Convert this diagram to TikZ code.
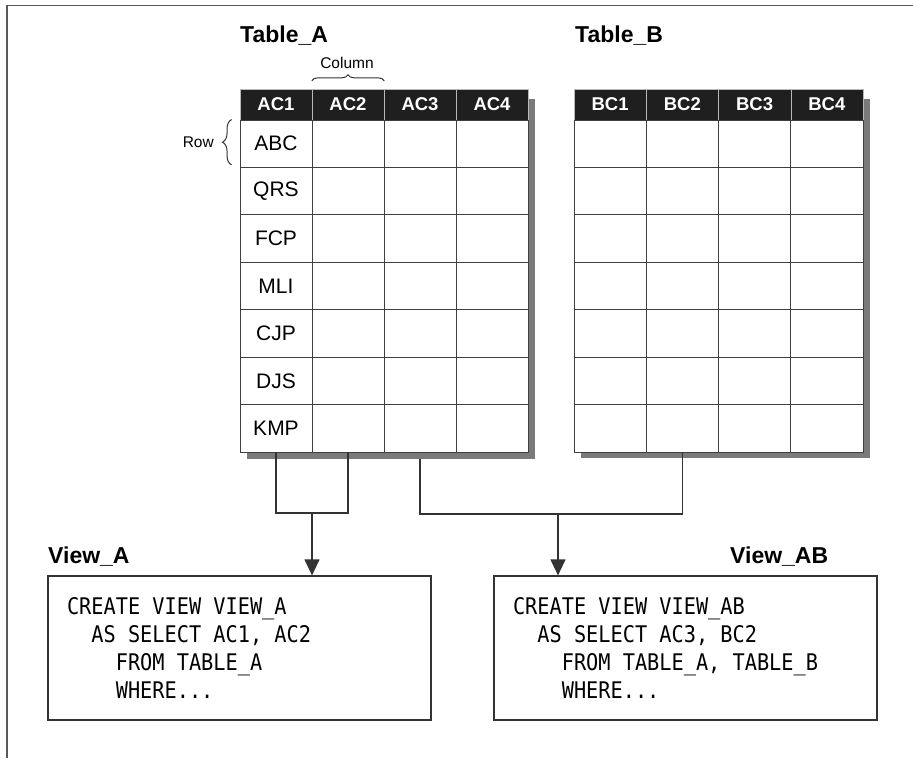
\documentclass[tikz,border=0pt]{standalone}
\usepackage{fontspec}
\setmainfont{Liberation Sans}
\newfontfamily\codefont[FakeStretch=0.885]{DejaVu Sans Mono}
\newcommand{\codespacing}{\spaceskip=\fontcharwd\font`\A\relax\xspaceskip=\spaceskip}
\usepackage{tikz}
\usetikzlibrary{arrows.meta,positioning,calc,backgrounds,decorations.pathreplacing}

\begin{document}
\begin{tikzpicture}[x=1pt,y=-1pt]
  \tikzstyle{title}=[anchor=base west, inner sep=0pt, font=\fontsize{23}{27}\selectfont\bfseries]
  \tikzstyle{head}=[rectangle, draw=gray!55, fill=black!88, text=white, minimum height=31pt, inner sep=0pt, font=\fontsize{18.5}{21}\selectfont\bfseries]
  \tikzstyle{cell}=[rectangle, draw=black!75, fill=white, line width=0.9pt, minimum height=47.43pt, inner sep=0pt, font=\fontsize{21}{24}\selectfont]
  \tikzstyle{note}=[inner sep=0pt, font=\fontsize{15.5}{18}\selectfont]
  \tikzstyle{tshadow}=[fill=black!52]
  \tikzstyle{link}=[draw=black!80, line width=1.2pt]
  \tikzstyle{arrow}=[-{Triangle[length=16pt,width=15pt]}]
  \tikzstyle{viewbox}=[rectangle, draw=black!80, line width=1.2pt, minimum width=383pt, minimum height=144pt, text width=345pt, inner xsep=19pt, align=left,
    font=\codefont\fontsize{22.9}{28}\selectfont]
  \tikzstyle{frame}=[draw=black!65, line width=1.6pt]

  \useasboundingbox (0,0) rectangle (913,758);
  \draw[frame] (913,5.5) -| (7,758);

  % tables
  \node[title] (ta) at (240,42) {Table\_A};
  \node[title] (tb) at (575,42) {Table\_B};
  \foreach \c in {1,...,4} {
    \node[head, minimum width=72pt] (ah\c) at ({204+72*\c},104.5) {AC\c};
    \node[head, minimum width=72.25pt] (bh\c) at ({537.875+72.25*\c},104.5) {BC\c};
  }
  \foreach \t [count=\r] in {ABC,QRS,FCP,MLI,CJP,DJS,KMP} {
    \foreach \c in {1,...,4} {
      \node[cell, minimum width=72pt] (a\r\c) at ({204+72*\c},{96.285+47.43*\r}) {\ifnum\c=1 \t\fi};
      \node[cell, minimum width=72.25pt] (b\r\c) at ({537.875+72.25*\c},{96.285+47.43*\r}) {};
    }
  }
  \begin{scope}[on background layer]
    \fill[tshadow] ([shift={(7,10)}]ah1.north west) rectangle ([shift={(7,7)}]a74.south east);
    \fill[tshadow] ([shift={(7,10)}]bh1.north west) rectangle ([shift={(7,6)}]b74.south east);
  \end{scope}

  % row / column marks
  \draw[link, line width=1pt, decorate, decoration={brace, amplitude=6pt}] ([yshift=8pt]ah2.north west) -- ([yshift=8pt]ah2.north east);
  \node[note] (collbl) at (347,63) {Column};
  \draw[link, line width=1pt, decorate, decoration={brace, amplitude=9pt}] ([shift={(-8,-3)}]a11.south west) -- ([xshift=-8pt]a11.north west);
  \node[note, anchor=east] (rowlbl) at (214,142) {Row};

  % views
  \node[title] (tva) at (48,563) {View\_A};
  \node[title] (tvab) at (730,563) {View\_AB};
  \node[viewbox] (va) at (239.5,648) {\codespacing CREATE VIEW VIEW\_A\\
    ~~AS SELECT AC1, AC2\\
    ~~~~FROM TABLE\_A\\
    ~~~~WHERE...};
  \node[viewbox] (vab) at (685.5,648) {\codespacing CREATE VIEW VIEW\_AB\\
    ~~AS SELECT AC3, BC2\\
    ~~~~FROM TABLE\_A, TABLE\_B\\
    ~~~~WHERE...};

  % connectors
  \coordinate (ja) at (312,513);
  \coordinate (jb) at (558,514);
  \draw[link] (a71.south) |- (ja) -| (a72.south);
  \draw[link, arrow] (ja) -- (ja |- va.north);
  \draw[link] ([yshift=-7pt]a73.south) |- (jb) -| (b72.south);
  \draw[link, arrow] (jb) -- (jb |- vab.north);
\end{tikzpicture}
\end{document}
